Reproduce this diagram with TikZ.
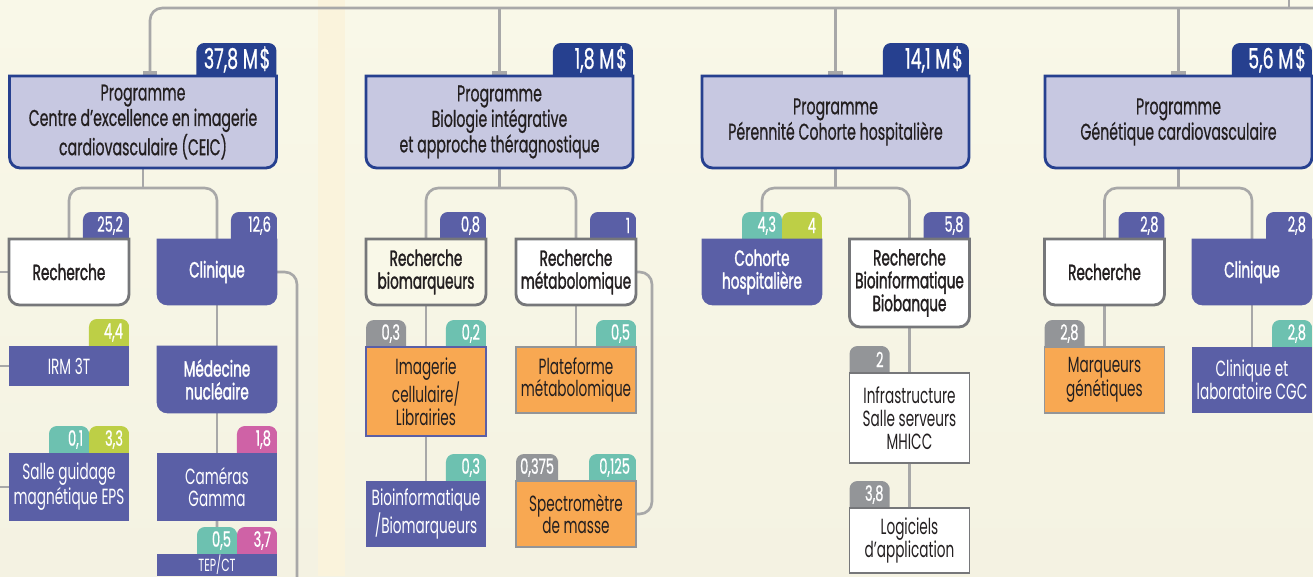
\documentclass[tikz,border=0pt]{standalone}
\usepackage{fontspec}
\setmainfont{Poppins}[FakeStretch=0.62]
\newfontfamily\medf{Poppins}[FakeStretch=0.62,FakeBold=0.6]
\newfontfamily\semib{Poppins}[FakeStretch=0.62,FakeBold=1.4]
\usetikzlibrary{arrows.meta,backgrounds}

\definecolor{bgtop}{HTML}{F9F8E8}
\definecolor{bgbot}{HTML}{F4F2E2}
\definecolor{bgband}{HTML}{FAF3DC}
\definecolor{navy}{HTML}{26408F}
\definecolor{lavender}{HTML}{C7C8E1}
\definecolor{slate}{HTML}{5A5FA6}
\definecolor{tealc}{HTML}{6DC1B0}
\definecolor{limec}{HTML}{BDCF46}
\definecolor{pinkc}{HTML}{CF62A6}
\definecolor{greyc}{HTML}{939598}
\definecolor{orangec}{HTML}{F8A852}
\definecolor{linec}{HTML}{A8A8A8}
\definecolor{framec}{HTML}{76777A}
\definecolor{inkc}{HTML}{231F20}

\begin{document}
\begin{tikzpicture}[x=0.02cm,y=0.02cm,
    prog/.style={minimum width=5.34cm,minimum height=1.84cm,inner sep=0pt,outer sep=0pt,
      align=center,text=inkc,font=\medf\fontsize{13}{14.5}\selectfont},
    card/.style={minimum width=2.4cm,minimum height=#1,inner sep=0pt,outer sep=0pt,
      align=center,font=\fontsize{12.5}{13}\selectfont},
    card/.default=1.32cm,
    head/.style={card=#1,font=\semib\fontsize{12.5}{13}\selectfont},
    head/.default=1.32cm,
    bluecard/.style={card=#1,fill=slate,text=white},
    bluecard/.default=1.32cm,
    orangecard/.style={card=#1,fill=orangec,draw=greyc,line width=0.7pt,text=inkc},
    orangecard/.default=1.32cm,
    whitecard/.style={card=#1,fill=white,draw=framec,line width=0.7pt,text=inkc},
    whitecard/.default=1.32cm,
    chip/.style={text width=#1,align=right,minimum height=0.54cm,inner xsep=0.12cm,
      inner ysep=0pt,outer sep=0pt,anchor=south east,text=white,font=\medf\fontsize{12}{12}\selectfont},
    chip/.default=0.56cm,
    bigchip/.style={chip=#1,minimum height=0.66cm,font=\medf\fontsize{16}{16}\selectfont},
    bigchip/.default=1.36cm,
    conn/.style={draw=linec,line width=1.5pt,rounded corners=7pt},
    stub/.style={conn,-{Rectangle[length=3pt,width=8.5pt]}}]

        \useasboundingbox (0,0) rectangle (1313,576);

        % Programmes
        \node[prog] (ceic) at (143,454) {Programme\\Centre d’excellence en imagerie\\cardiovasculaire (CEIC)};
        \node[prog] (bio) at (499.5,454) {Programme\\Biologie intégrative\\et approche théragnostique};
        \node[prog] (per) at (835.5,454) {Programme\\Pérennité Cohorte hospitalière};
        \node[prog] (gen) at (1178.5,454) {Programme\\Génétique cardiovasculaire};
        \node[bigchip] (tceic) at (ceic.north east) {37,8\,M\kern1pt\$};
        \node[bigchip] (tbio) at (bio.north east) {1,8\,M\kern1pt\$};
        \node[bigchip=1.48cm] (tper) at (per.north east) {14,1\,M\kern1pt\$};
        \node[bigchip] (tgen) at (gen.north east) {5,6\,M\kern1pt\$};

        % CEIC
        \node[head,text=inkc] (ceicR) at (69,304) {Recherche};
        \node[head,text=white] (ceicC) at (217,304) {Clinique};
        \node[bluecard=0.8cm] (irm) at (69,210) {IRM 3T};
        \node[bluecard=1.36cm] (salle) at (69,89) {Salle guidage\\magnétique EPS};
        \node[head=1.34cm,text=white] (medN) at (217,196.5) {Médecine\\nucléaire};
        \node[bluecard=1.36cm] (cam) at (217,89) {Caméras\\Gamma};
        \node[bluecard=0.44cm,font=\fontsize{10}{11}\selectfont] (tep) at (217,11) {TEP/CT};
        \node[chip=0.68cm] (tceicR) at (ceicR.north east) {25,2};
        \node[chip=0.68cm] (tceicC) at (ceicC.north east) {12,6};
        \node[chip] (tirm) at (irm.north east) {4,4};
        \node[chip] (tsalleB) at (salle.north east) {3,3};
        \node[chip] (tsalleA) at (tsalleB.south west) {0,1};
        \node[chip] (tcam) at (cam.north east) {1,8};
        \node[chip] (ttepB) at (tep.north east) {3,7};
        \node[chip] (ttepA) at (ttepB.south west) {0,5};

        % Biologie
        \node[head,text=inkc] (bioR) at (426,304) {Recherche\\biomarqueurs};
        \node[head,text=inkc] (metR) at (576,304) {Recherche\\métabolomique};
        \node[orangecard=1.78cm,draw=slate] (imag) at (426,184.5) {Imagerie\\cellulaire/\\Librairies};
        \node[orangecard] (plat) at (576,196) {Plateforme\\métabolomique};
        \node[bluecard] (bioinf) at (426,62) {Bioinformatique\\/Biomarqueurs};
        \node[orangecard] (spectro) at (576,62) {Spectromètre\\de masse};
        \node[chip=0.68cm] (tbioR) at (bioR.north east) {0,8};
        \node[chip=0.68cm] (tmetR) at (metR.north east) {1};
        \node[chip,anchor=south west] (timagA) at (imag.north west) {0,3};
        \node[chip] (timagB) at (imag.north east) {0,2};
        \node[chip] (tplat) at (plat.north east) {0,5};
        \node[chip] (tbioinf) at (bioinf.north east) {0,3};
        \node[chip=0.68cm,anchor=south west,inner xsep=0.08cm] (tspecA) at (spectro.north west) {0,375};
        \node[chip=0.7cm] (tspecB) at (spectro.north east) {0,125};

        % Perennite
        \node[head,text=white] (cohorte) at (762,304) {Cohorte\\hospitalière};
        \node[head=1.76cm,text=inkc] (perR) at (909.5,293) {Recherche\\Bioinformatique\\Biobanque};
        \node[whitecard=1.8cm] (infra) at (909.5,158) {Infrastructure\\Salle serveurs\\MHICC};
        \node[whitecard=1.3cm] (logi) at (909.5,35.5) {Logiciels\\d’application};
        \node[chip] (tcohB) at (cohorte.north east) {4};
        \node[chip] (tcohA) at (tcohB.south west) {4,3};
        \node[chip=0.68cm] (tperR) at (perR.north east) {5,8};
        \node[chip,anchor=south west] (tinfra) at (infra.north west) {2};
        \node[chip,anchor=south west] (tlogi) at (logi.north west) {3,8};

        % Genetique
        \node[head,text=inkc] (genR) at (1104.5,304) {Recherche};
        \node[head,text=white] (genC) at (1252,304) {Clinique};
        \node[orangecard] (marq) at (1104.5,196) {Marqueurs\\génétiques};
        \node[bluecard] (cgc) at (1252,196) {Clinique et\\laboratoire CGC};
        \node[chip=0.68cm] (tgenR) at (genR.north east) {2,8};
        \node[chip=0.68cm] (tgenC) at (genC.north east) {2,8};
        \node[chip,anchor=south west] (tmarq) at (marq.north west) {2,8};
        \node[chip] (tcgc) at (cgc.north east) {2,8};

        \begin{pgfonlayer}{background}
            % paper
            \shade[top color=bgtop,bottom color=bgbot] (0,0) rectangle (1313,576);
            \fill[bgband] (318,0) rectangle (345,576);

            % connectors
            \coordinate (topR) at (1330,568);
            \coordinate (topUp) at (1289,590);
            \coordinate (leftE) at (-10,0);
            \coordinate (clinDown) at (297,-20);
            \draw[conn,{Rectangle[length=3pt,width=8.5pt]}-] ([xshift=0.14cm]ceic.north) |- (topR);
            \draw[conn] (topUp) -- (topUp |- topR);
            \foreach \pg in {bio,per,gen}
                \draw[stub] (\pg.north |- topR) -- (\pg.north);

            \draw[conn] (ceic.south) -- ++(0,-20);
            \draw[conn] (ceicR.north) -- ++(0,51) -| (ceicC.north);
            \draw[conn] (bio.south) -- ++(0,-20);
            \draw[conn] (bioR.north) -- ++(0,51) -| (metR.north);
            \draw[conn] (per.south) -- ++(0,-20);
            \draw[conn] (tcohA.north) -- ++(0,24) -| (perR.north);
            \draw[conn] (gen.south) -- ++(0,-20);
            \draw[conn] (genR.north) -- ++(0,51) -| (genC.north);

            \draw[conn] (ceicC.south) -- (medN.north);
            \draw[conn] (medN.south) -- (cam.north);
            \draw[conn] (cam.south) -- (ttepA.north);
            \draw[conn] (bioR.south) -- (imag.north);
            \draw[conn] (imag.south) -- (bioinf.north);
            \draw[conn] (metR.south) -- (plat.north);
            \draw[conn] (perR.south) -- (infra.north);
            \draw[conn] (infra.south) -- (logi.north);
            \draw[conn] (genR.south) -- (marq.north);
            \draw[conn] (genC.south) -- (cgc.north);

            \foreach \bx in {ceicR,irm,salle}
                \draw[conn] (\bx.west) -- (\bx.west -| leftE);
            \draw[conn] (ceicC.east) -| (clinDown);
            \draw[conn] (metR.east) -- ++(16,0) |- (spectro.east);

            % tabs, rounded on top
            \foreach \tb/\tc in {tceic/navy,tbio/navy,tper/navy,tgen/navy,
                tceicR/slate,tceicC/slate,tirm/limec,tsalleB/limec,tsalleA/tealc,
                tcam/pinkc,ttepB/pinkc,ttepA/tealc,tbioR/slate,tmetR/slate,
                timagA/greyc,timagB/tealc,tplat/tealc,tbioinf/tealc,tspecA/greyc,
                tspecB/tealc,tcohA/tealc,tcohB/limec,tperR/slate,tinfra/greyc,
                tlogi/greyc,tgenR/slate,tgenC/slate,tmarq/greyc,tcgc/tealc}
                \fill[\tc] (\tb.west) [rounded corners=4.5pt] -- (\tb.north west)
                    -- (\tb.north east) -- (\tb.east) [sharp corners] -- (\tb.south east)
                    -- (\tb.south west) -- cycle;

            % boxes, rounded at the bottom
            \foreach \bx/\fc/\dc in {ceic/lavender/navy,bio/lavender/navy,per/lavender/navy,
                gen/lavender/navy,ceicR/white/framec,bioR/bgtop/framec,metR/white/framec,
                perR/white/framec,genR/white/framec}
                \filldraw[fill=\fc,draw=\dc,line width=1.6pt] (\bx.west) [rounded corners=6pt]
                    -- (\bx.south west) -- (\bx.south east) -- (\bx.east) [sharp corners]
                    -- (\bx.north east) -- (\bx.north west) -- cycle;
            \foreach \bx in {ceicC,medN,cohorte,genC}
                \filldraw[fill=slate,draw=slate,line width=0.4pt] (\bx.west) [rounded corners=6pt]
                    -- (\bx.south west) -- (\bx.south east) -- (\bx.east) [sharp corners]
                    -- (\bx.north east) -- (\bx.north west) -- cycle;
        \end{pgfonlayer}

\end{tikzpicture}
\end{document}
